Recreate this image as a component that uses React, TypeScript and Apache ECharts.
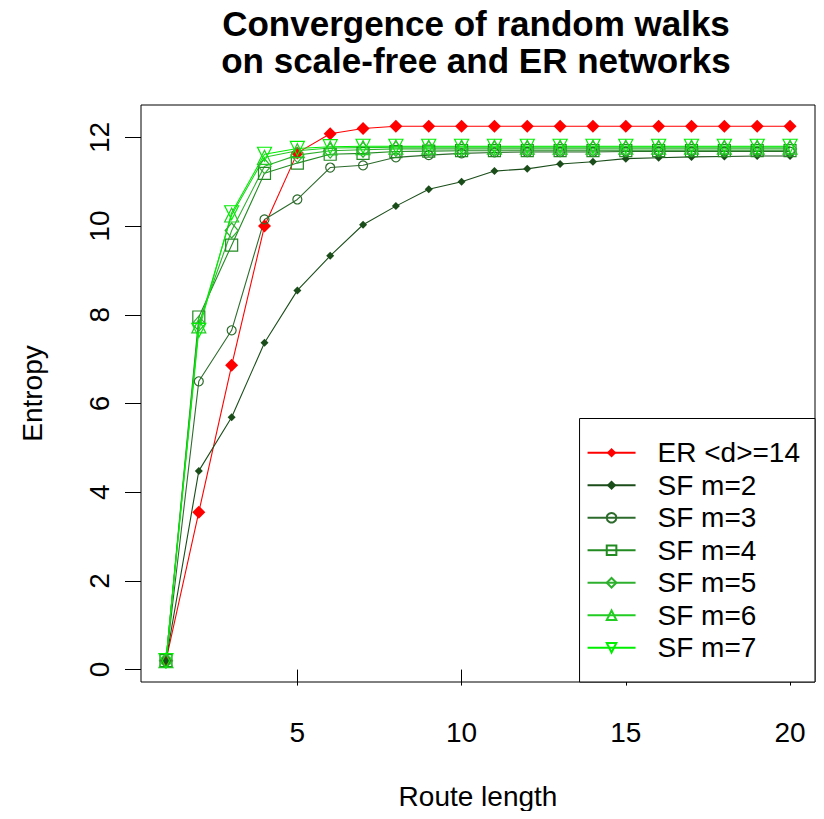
import React, { useEffect, useRef } from "react";
import * as echarts from "echarts";

const routeLength = [1, 2, 3, 4, 5, 6, 7, 8, 9, 10, 11, 12, 13, 14, 15, 16, 17, 18, 19, 20];
const erD14 = [0.2, 3.55, 6.86, 10.0, 11.65, 12.08, 12.2, 12.25, 12.25, 12.25, 12.25, 12.25, 12.25, 12.25, 12.25, 12.25, 12.25, 12.25, 12.25, 12.25];
const sfM2 = [0.2, 4.48, 5.69, 7.37, 8.55, 9.33, 10.03, 10.45, 10.83, 11.0, 11.24, 11.29, 11.4, 11.45, 11.52, 11.54, 11.56, 11.57, 11.58, 11.58];
const sfM3 = [0.2, 6.5, 7.65, 10.15, 10.6, 11.32, 11.37, 11.55, 11.6, 11.64, 11.66, 11.67, 11.67, 11.67, 11.68, 11.68, 11.68, 11.68, 11.68, 11.68];
const sfM4 = [0.2, 7.95, 9.57, 11.19, 11.42, 11.62, 11.64, 11.68, 11.69, 11.7, 11.7, 11.7, 11.7, 11.7, 11.7, 11.7, 11.7, 11.7, 11.7, 11.7];
const sfM5 = [0.2, 7.8, 9.9, 11.35, 11.6, 11.7, 11.72, 11.74, 11.74, 11.74, 11.74, 11.74, 11.74, 11.74, 11.74, 11.74, 11.74, 11.74, 11.74, 11.74];
const sfM6 = [0.2, 7.75, 10.25, 11.55, 11.7, 11.76, 11.77, 11.78, 11.78, 11.78, 11.78, 11.78, 11.78, 11.78, 11.78, 11.78, 11.78, 11.78, 11.78, 11.78];
const sfM7 = [0.2, 7.65, 10.3, 11.62, 11.75, 11.79, 11.8, 11.8, 11.8, 11.8, 11.8, 11.8, 11.8, 11.8, 11.8, 11.8, 11.8, 11.8, 11.8, 11.8];

const xTicks = [5, 10, 15, 20];
const yTicks = [0, 2, 4, 6, 8, 10, 12];

const titleLines = ["Convergence of random walks", "on scale-free and ER networks"];

const FONT = '"Liberation Sans", Arial, Helvetica, sans-serif';

type SeriesDef = {
  name: string;
  values: number[];
  color: string;
  symbol: string;
  size: number | number[];
  filled: boolean;
  rotate?: number;
};

const seriesDefs: SeriesDef[] = [
  { name: "ER <d>=14", values: erD14, color: "#ff0000", symbol: "diamond", size: 13, filled: true },
  { name: "SF m=2", values: sfM2, color: "#1a4d1a", symbol: "diamond", size: 8, filled: true },
  { name: "SF m=3", values: sfM3, color: "#2d6b2d", symbol: "circle", size: 9, filled: false },
  { name: "SF m=4", values: sfM4, color: "#228b22", symbol: "rect", size: 12, filled: false },
  { name: "SF m=5", values: sfM5, color: "#2eb02e", symbol: "diamond", size: [13, 15], filled: false },
  { name: "SF m=6", values: sfM6, color: "#22cc22", symbol: "triangle", size: 14, filled: false },
  { name: "SF m=7", values: sfM7, color: "#00ee00", symbol: "triangle", size: 14, filled: false, rotate: 180 },
];

export default function App() {
  const ref = useRef<HTMLDivElement>(null);

  useEffect(() => {
    if (!ref.current) return;
    const chart = echarts.init(ref.current, null, { renderer: "svg" });

    const series = seriesDefs.map((d) => ({
      name: d.name,
      type: "line",
      data: routeLength.map((x, i) => [x, d.values[i]]),
      symbol: d.symbol,
      symbolSize: d.size,
      symbolRotate: d.rotate ?? 0,
      showAllSymbol: true,
      lineStyle: { color: d.color, width: 1.1 },
      itemStyle: d.filled
        ? { color: d.color, borderColor: d.color, borderWidth: 0 }
        : { color: "rgba(255,255,255,0)", borderColor: d.color, borderWidth: 1.2 },
      emphasis: { disabled: true },
    }));

    const option = {
      animation: false,
      backgroundColor: "#ffffff",
      textStyle: { fontFamily: FONT },
      grid: {
        left: 141,
        top: 105,
        right: 9,
        bottom: 137,
        show: true,
        borderColor: "#000",
        borderWidth: 1,
        backgroundColor: "transparent",
      },
      graphic: [
        {
          type: "text",
          x: 476,
          y: 23,
          style: {
            text: titleLines[0],
            align: "center",
            verticalAlign: "middle",
            font: `bold 35px ${FONT}`,
            fill: "#000",
          },
        },
        {
          type: "text",
          x: 476,
          y: 60,
          style: {
            text: titleLines[1],
            align: "center",
            verticalAlign: "middle",
            font: `bold 35px ${FONT}`,
            fill: "#000",
          },
        },
      ],
      xAxis: {
        type: "value",
        min: 0.24,
        max: 20.76,
        name: "Route length",
        nameLocation: "middle",
        nameGap: 100,
        nameTextStyle: { fontSize: 28, color: "#000", fontFamily: FONT },
        axisLine: { show: false },
        axisTick: { show: true, customValues: xTicks, length: 16, lineStyle: { color: "#000", width: 1 } },
        axisLabel: { customValues: xTicks, fontSize: 28, color: "#000", margin: 36, fontFamily: FONT },
        splitLine: { show: false },
      },
      yAxis: {
        type: "value",
        min: -0.28,
        max: 12.73,
        name: "Entropy",
        nameLocation: "middle",
        nameGap: 95,
        nameRotate: 90,
        nameTextStyle: { fontSize: 28, color: "#000", fontFamily: FONT },
        axisLine: { show: false },
        axisTick: { show: true, customValues: yTicks, length: 16, lineStyle: { color: "#000", width: 1 } },
        axisLabel: { customValues: yTicks, fontSize: 28, color: "#000", margin: 28, rotate: 90, fontFamily: FONT },
        splitLine: { show: false },
      },
      legend: {
        orient: "vertical",
        right: 9,
        bottom: 137,
        backgroundColor: "#fff",
        borderColor: "#000",
        borderWidth: 1,
        borderRadius: 0,
        padding: [18, 15, 18, 7],
        itemGap: 0,
        itemWidth: 48,
        itemHeight: 12,
        selectedMode: false,
        data: seriesDefs.map((d) => d.name),
        textStyle: {
          fontSize: 28,
          color: "#000",
          fontFamily: FONT,
          lineHeight: 32.5,
          padding: [0, 0, 0, 17],
        },
      },
      series,
    };

    chart.setOption(option as any);
    return () => chart.dispose();
  }, []);

  return <div ref={ref} style={{ width: 824, height: 819, margin: -8 }} />;
}
